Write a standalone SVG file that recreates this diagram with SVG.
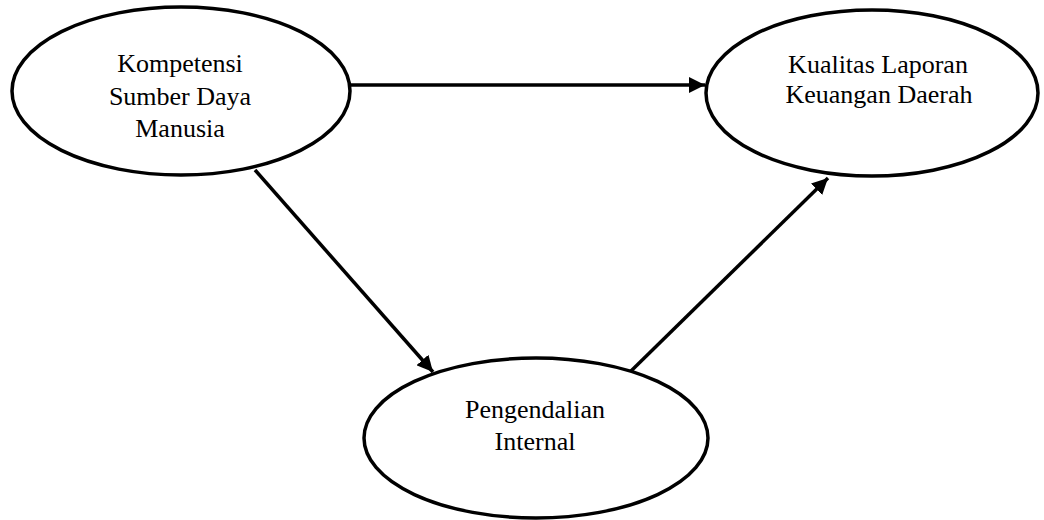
<svg xmlns="http://www.w3.org/2000/svg" width="1044" height="520" viewBox="0 0 1044 520">
<style>
.node{fill:#fff;stroke:#000;stroke-width:3.5}
.lbl{font-family:"Liberation Serif","Times New Roman",serif;font-size:26px;fill:#000;text-anchor:middle}
.edge{stroke:#000;stroke-width:3.5;fill:none;marker-end:url(#ah)}
</style>
<defs>
<marker id="ah" markerUnits="userSpaceOnUse" markerWidth="18" markerHeight="16" refX="16" refY="8" orient="auto">
<path d="M0,0 L16,8 L0,16 Z" fill="#000"/>
</marker>
</defs>
<rect width="1044" height="520" fill="#fff"/>
<g id="connectors">
<line class="edge" x1="351" y1="85" x2="705" y2="85"/>
<line class="edge" x1="255" y1="170" x2="433" y2="372"/>
<line class="edge" x1="630" y1="372" x2="828" y2="178"/>
</g>
<g id="ksdm">
<ellipse class="node" cx="181" cy="91" rx="169" ry="84"/>
<text class="lbl" x="180" y="72">Kompetensi</text>
<text class="lbl" x="180" y="105">Sumber Daya</text>
<text class="lbl" x="180" y="137">Manusia</text>
</g>
<g id="klkd">
<ellipse class="node" cx="872" cy="93" rx="166" ry="83"/>
<text class="lbl" x="878" y="73">Kualitas Laporan</text>
<text class="lbl" x="879" y="103">Keuangan Daerah</text>
</g>
<g id="pi">
<ellipse class="node" cx="536" cy="438" rx="172" ry="80"/>
<text class="lbl" x="535" y="418">Pengendalian</text>
<text class="lbl" x="535" y="450">Internal</text>
</g>
</svg>
